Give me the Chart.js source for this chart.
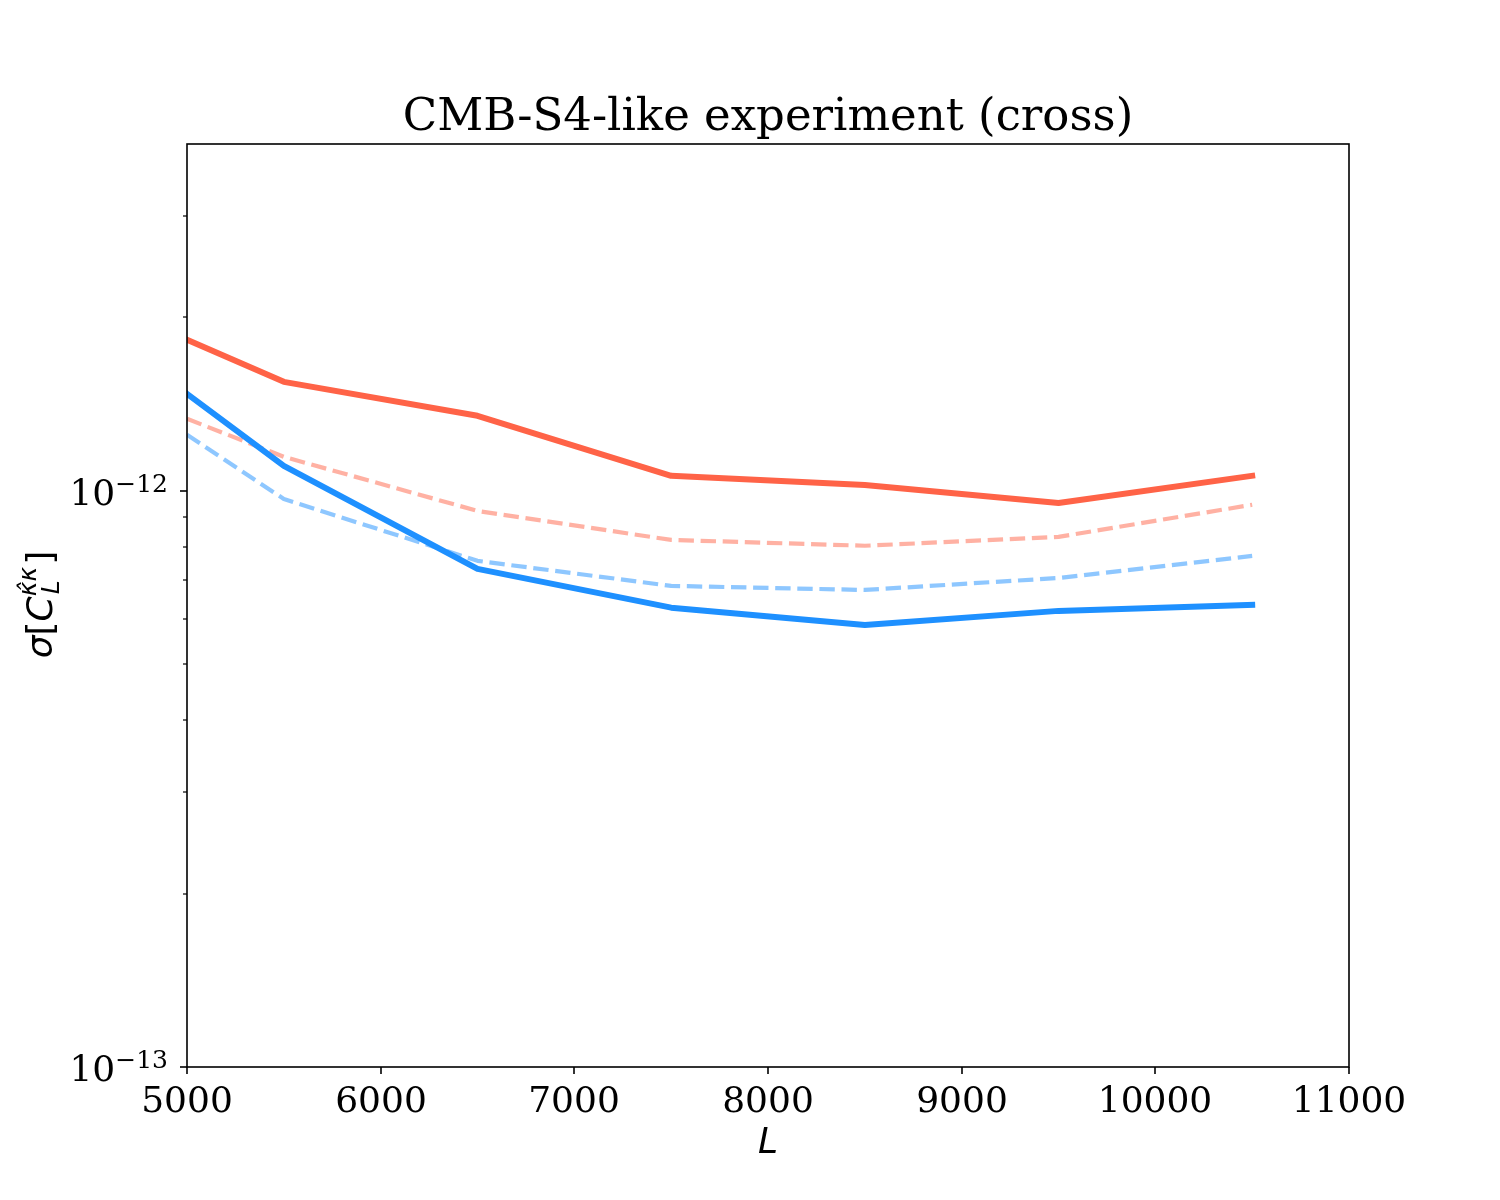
<!DOCTYPE html>
<html>
<head>
<meta charset="utf-8">
<script src="https://cdn.jsdelivr.net/npm/chart.js@4/dist/chart.umd.min.js"></script>
<style>
  html, body { margin: 0; padding: 0; background: #fff; }
  canvas { display: block; }
</style>
</head>
<body>
<canvas id="grafico" width="1500" height="1200"></canvas>
<script>
// Dados
const valoresL = [5000, 5500, 6500, 7500, 8500, 9500, 10500];
const vermelhoCheio = [1.83e-12, 1.546e-12, 1.35e-12, 1.062e-12, 1.024e-12, 0.953e-12, 1.062e-12];
const vermelhoTracejado = [1.334e-12, 1.146e-12, 0.923e-12, 0.822e-12, 0.803e-12, 0.832e-12, 0.946e-12];
const azulCheio = [1.474e-12, 1.105e-12, 0.732e-12, 0.627e-12, 0.585e-12, 0.619e-12, 0.634e-12];
const azulTracejado = [1.251e-12, 0.968e-12, 0.756e-12, 0.684e-12, 0.673e-12, 0.706e-12, 0.771e-12];

const ticksX = [5000, 6000, 7000, 8000, 9000, 10000, 11000];
const ticksYMaiores = [1e-13, 1e-12];
const expoentesY = ['\u221213', '\u221212'];
const ticksYMenores = [2e-13, 3e-13, 4e-13, 5e-13, 6e-13, 7e-13, 8e-13, 9e-13, 2e-12, 3e-12];

const titulo = 'CMB-S4-like experiment (cross)';

const pontos = (ys) => valoresL.map((x, i) => ({ x: x, y: ys[i] }));

// Desenha eixos, ticks, rótulos e título
const eixosPlugin = {
    id: 'eixos',
    afterDraw(chart) {
        const ctx = chart.ctx;
        const area = chart.chartArea;
        const sx = chart.scales.x;
        const sy = chart.scales.y;
        ctx.save();
        ctx.strokeStyle = '#000';
        ctx.fillStyle = '#000';

        // moldura
        ctx.lineWidth = 1.6;
        ctx.strokeRect(area.left, area.top, area.right - area.left, area.bottom - area.top);

        // ticks do eixo x
        ctx.font = '36px "DejaVu Serif"';
        ctx.textAlign = 'center';
        ctx.textBaseline = 'alphabetic';
        ticksX.forEach(v => {
            const px = Math.round(sx.getPixelForValue(v));
            ctx.beginPath();
            ctx.moveTo(px, area.bottom);
            ctx.lineTo(px, area.bottom + 7);
            ctx.stroke();
            ctx.fillText(String(v), px, area.bottom + 45);
        });

        // ticks maiores do eixo y
        ticksYMaiores.forEach((v, i) => {
            const py = Math.round(sy.getPixelForValue(v));
            ctx.lineWidth = 1.6;
            ctx.beginPath();
            ctx.moveTo(area.left, py);
            ctx.lineTo(area.left - 7, py);
            ctx.stroke();
            ctx.font = '25px "DejaVu Serif"';
            const wExp = ctx.measureText(expoentesY[i]).width;
            ctx.textAlign = 'right';
            ctx.fillText(expoentesY[i], area.left - 19, py + 1);
            ctx.font = '36px "DejaVu Serif"';
            ctx.fillText('10', area.left - 19 - wExp, py + 14);
        });

        // ticks menores do eixo y
        ctx.lineWidth = 1.2;
        ticksYMenores.forEach(v => {
            const py = Math.round(sy.getPixelForValue(v));
            ctx.beginPath();
            ctx.moveTo(area.left, py);
            ctx.lineTo(area.left - 4, py);
            ctx.stroke();
        });

        // título
        ctx.font = '45px "DejaVu Serif"';
        ctx.textAlign = 'center';
        ctx.fillText(titulo, (area.left + area.right) / 2, area.top - 14);

        // rótulo do eixo x
        ctx.font = 'italic 36px "DejaVu Sans"';
        ctx.fillText('L', (area.left + area.right) / 2, area.bottom + 86);

        // rótulo do eixo y: σ[C_L^{κ̂κ}]
        ctx.translate(52, (area.top + area.bottom) / 2);
        ctx.rotate(-Math.PI / 2);
        const partes = [
            { t: '\u03c3', f: 'italic 36px "DejaVu Sans"', dy: 0 },
            { t: '[', f: '36px "DejaVu Sans"', dy: 0 },
            { t: 'C', f: 'italic 36px "DejaVu Sans"', dy: 0 },
            { t: 'L', f: 'italic 25px "DejaVu Sans"', dy: 7, sub: true },
            { t: '\u03ba\u0302\u03ba', f: 'italic 25px "DejaVu Sans"', dy: -16, sup: true },
            { t: ']', f: '36px "DejaVu Sans"', dy: 0 }
        ];
        let total = 0;
        let largSub = 0;
        partes.forEach(p => {
            ctx.font = p.f;
            p.w = ctx.measureText(p.t).width;
            if (p.sub) { largSub = p.w; return; }
            if (p.sup) { p.w = Math.max(p.w, largSub); }
            total += p.w;
        });
        let x = -total / 2;
        ctx.textAlign = 'left';
        partes.forEach(p => {
            ctx.font = p.f;
            ctx.fillText(p.t, x + (p.sub ? 2 : 0), p.dy);
            if (!p.sub) x += p.w + (p.sup ? 2 : 0);
        });

        ctx.restore();
    }
};

const tomato = 'rgb(255, 99, 71)';
const tomatoClaro = 'rgba(255, 99, 71, 0.5)';
const dodger = 'rgb(30, 144, 255)';
const dodgerClaro = 'rgba(30, 144, 255, 0.5)';

new Chart(document.getElementById('grafico').getContext('2d'), {
    type: 'line',
    data: {
        datasets: [
            { label: 'azul', data: pontos(azulCheio), borderColor: dodger, borderWidth: 6, borderCapStyle: 'square' },
            { label: 'vermelho', data: pontos(vermelhoCheio), borderColor: tomato, borderWidth: 6, borderCapStyle: 'square' },
            { label: 'azul tracejado', data: pontos(azulTracejado), borderColor: dodgerClaro, borderWidth: 4.2, borderDash: [15.4, 6.7] },
            { label: 'vermelho tracejado', data: pontos(vermelhoTracejado), borderColor: tomatoClaro, borderWidth: 4.2, borderDash: [15.4, 6.7] }
        ]
    },
    options: {
        responsive: false,
        devicePixelRatio: 1,
        animation: false,
        clip: 0,
        layout: { padding: { left: 187, top: 144, right: 151, bottom: 133 } },
        elements: {
            point: { radius: 0 },
            line: { tension: 0, borderJoinStyle: 'round', fill: false }
        },
        scales: {
            x: { type: 'linear', min: 5000, max: 11000, display: false },
            y: { type: 'logarithmic', min: 1e-13, max: 4e-12, display: false }
        },
        plugins: {
            legend: { display: false },
            tooltip: { enabled: false }
        }
    },
    plugins: [eixosPlugin]
});
</script>
</body>
</html>
